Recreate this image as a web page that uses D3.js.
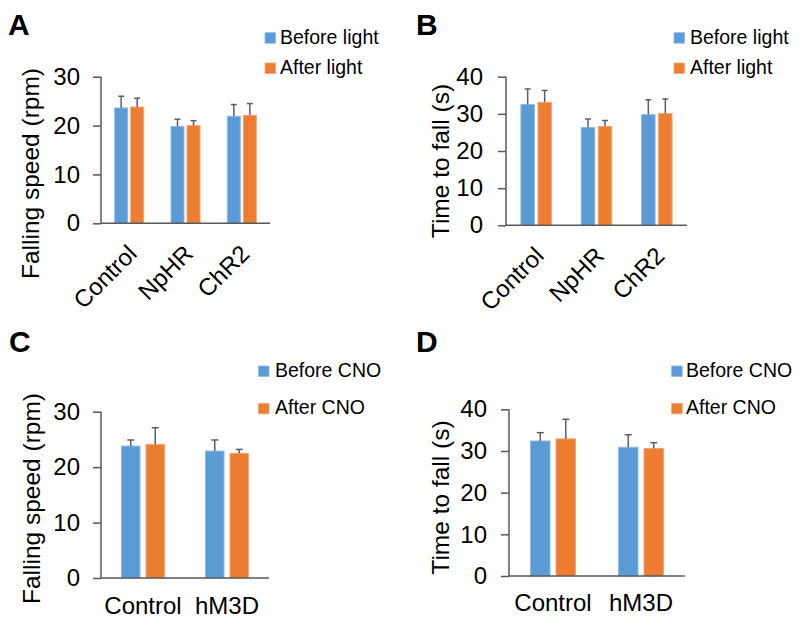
<!DOCTYPE html>
<html>
<head>
<meta charset="utf-8">
<script src="https://cdn.jsdelivr.net/npm/d3@7"></script>
<style>
  html, body { margin: 0; padding: 0; background: #fff; }
  svg { display: block; }
  text { font-family: "Liberation Sans", Arial, sans-serif; fill: #000; }
</style>
</head>
<body>
<svg id="chart" width="800" height="620"></svg>
<script>
// ---------- data ----------
const catsLight = ["Control", "NpHR", "ChR2"];
const catsCNO = ["Control", "hM3D"];
const seriesLight = ["Before light", "After light"];
const seriesCNO = ["Before CNO", "After CNO"];

// Panel A: falling speed (rpm), light
const aBefore = [23.6, 19.8, 21.9];
const aBeforeErr = [2.4, 1.5, 2.4];
const aAfter = [23.8, 20.0, 22.1];
const aAfterErr = [1.8, 1.0, 2.4];

// Panel B: time to fall (s), light
const bBefore = [32.5, 26.3, 29.8];
const bBeforeErr = [4.2, 2.3, 4.0];
const bAfter = [33.1, 26.6, 30.1];
const bAfterErr = [3.2, 1.6, 3.9];

// Panel C: falling speed (rpm), CNO
const cBefore = [23.8, 22.9];
const cBeforeErr = [1.1, 2.0];
const cAfter = [24.1, 22.5];
const cAfterErr = [3.0, 0.7];

// Panel D: time to fall (s), CNO
const dBefore = [32.4, 30.9];
const dBeforeErr = [2.0, 3.0];
const dAfter = [32.9, 30.6];
const dAfterErr = [4.7, 1.4];

const ticksSpeed = [0, 10, 20, 30];
const ticksTime = [0, 10, 20, 30, 40];
const titleSpeed = "Falling speed (rpm)";
const titleTime = "Time to fall (s)";
const panelLetters = ["A", "B", "C", "D"];

const colors = ["#5B9BD5", "#ED7D31"];
const strokeColors = ["#8DB9E4", "#F3A676"];

// ---------- panels (data + layout) ----------
const panels = [
  { letter: panelLetters[0], cats: catsLight, series: seriesLight,
    values: [aBefore, aAfter], errs: [aBeforeErr, aAfterErr], ticks: ticksSpeed, title: titleSpeed,
    L: { ax: 101, ae: 270, yt: 76.7, yb: 223.3, bw: 13, gap: 3, rotate: true,
         legX: 265, legY: [32.7, 63], legTX: 280, letX: 8, letY: 35, tX: 39, tY: 173.5, tickGap: 21 } },
  { letter: panelLetters[1], cats: catsLight, series: seriesLight,
    values: [bBefore, bAfter], errs: [bBeforeErr, bAfterErr], ticks: ticksTime, title: titleTime,
    L: { ax: 506, ae: 687, yt: 76.7, yb: 225.3, bw: 13.5, gap: 3.5, rotate: true,
         legX: 674, legY: [32.7, 63], legTX: 690, letX: 416, letY: 35, tX: 449, tY: 161, tickGap: 23 } },
  { letter: panelLetters[2], cats: catsCNO, series: seriesCNO,
    values: [cBefore, cAfter], errs: [cBeforeErr, cAfterErr], ticks: ticksSpeed, title: titleSpeed,
    L: { ax: 101, ae: 269, yt: 411.7, yb: 578, bw: 18.5, gap: 6, rotate: false, labY: 614,
         legX: 258.5, legY: [366, 403.3], legTX: 275, letX: 9, letY: 352, tX: 40, tY: 498.5, tickGap: 21 } },
  { letter: panelLetters[3], cats: catsCNO, series: seriesCNO,
    values: [dBefore, dAfter], errs: [dBeforeErr, dAfterErr], ticks: ticksTime, title: titleTime,
    L: { ax: 509, ae: 685, yt: 409.3, yb: 576, bw: 19.5, gap: 6, rotate: false, labY: 611,
         legX: 671.7, legY: [366, 403.3], legTX: 686, letX: 416, letY: 352, tX: 449, tY: 497.5, tickGap: 22 } }
];

const svg = d3.select("#chart");
const axisColor = "#595959";
const errColor = "#5f5f5f";

panels.forEach(p => {
  const L = p.L;
  const g = svg.append("g");
  const yMax = d3.max(p.ticks);
  const y = d3.scaleLinear().domain([0, yMax]).range([L.yb, L.yt]);
  const x = d3.scaleBand().domain(p.cats).range([L.ax, L.ae]).paddingInner(0).paddingOuter(0);
  const groupW = 2 * L.bw + L.gap;
  const xs = d3.scaleBand().domain(p.series).range([-groupW / 2, groupW / 2])
    .paddingInner(L.gap / (L.bw + L.gap)).paddingOuter(0);

  // Panel letter
  g.append("text").attr("x", L.letX).attr("y", L.letY)
    .style("font-size", "30px").style("font-weight", "bold").text(p.letter);

  // Y axis via d3.axisLeft
  const yAxis = d3.axisLeft(y).tickValues(p.ticks).tickSize(8).tickPadding(L.tickGap - 8).tickFormat(d3.format("d"));
  const yg = g.append("g").attr("transform", `translate(${L.ax},0)`).call(yAxis);
  yg.select(".domain").attr("stroke", axisColor).attr("stroke-width", 1.5).attr("d", `M0,${L.yt}V${L.yb}`);
  yg.selectAll(".tick line").attr("stroke", axisColor).attr("stroke-width", 1.5);
  yg.selectAll(".tick text").style("font-size", "24px").attr("fill", "#000")
    .style("font-family", '"Liberation Sans", Arial, sans-serif');

  // Bars
  p.series.forEach((s, si) => {
    const vals = p.values[si];
    const errs = p.errs[si];
    const data = p.cats.map((c, i) => ({ c, v: vals[i], e: errs[i] }));
    g.selectAll(null).data(data).enter().append("rect")
      .attr("x", d => x(d.c) + x.bandwidth() / 2 + xs(s))
      .attr("y", d => y(d.v))
      .attr("width", xs.bandwidth())
      .attr("height", d => y(0) - y(d.v))
      .attr("fill", colors[si])
      .attr("stroke", strokeColors[si]).attr("stroke-width", 1);
    // error bars (upper only)
    const capW = L.rotate ? 6 : 7;
    const eg = g.selectAll(null).data(data).enter().append("g")
      .attr("transform", d => `translate(${x(d.c) + x.bandwidth() / 2 + xs(s) + xs.bandwidth() / 2},0)`);
    eg.append("line").attr("x1", 0).attr("x2", 0)
      .attr("y1", d => y(d.v)).attr("y2", d => y(d.v + d.e))
      .attr("stroke", errColor).attr("stroke-width", 1.5);
    eg.append("line").attr("x1", -capW / 2).attr("x2", capW / 2)
      .attr("y1", d => y(d.v + d.e)).attr("y2", d => y(d.v + d.e))
      .attr("stroke", errColor).attr("stroke-width", 1.5);
  });

  // X axis line
  g.append("line").attr("x1", L.ax).attr("x2", L.ae).attr("y1", y(0)).attr("y2", y(0))
    .attr("stroke", axisColor).attr("stroke-width", 1.5);

  // X labels
  if (L.rotate) {
    g.selectAll(null).data(p.cats).enter().append("text")
      .attr("text-anchor", "end")
      .attr("transform", d => `translate(${x(d) + x.bandwidth() / 2 + 9},${y(0) + 32}) rotate(-45)`)
      .style("font-size", "24px").text(d => d);
  } else {
    g.selectAll(null).data(p.cats).enter().append("text")
      .attr("text-anchor", "middle")
      .attr("x", d => x(d) + x.bandwidth() / 2)
      .attr("y", L.labY)
      .style("font-size", "24px").text(d => d);
  }

  // Y title
  g.append("text").attr("text-anchor", "middle")
    .attr("transform", `translate(${L.tX},${L.tY}) rotate(-90)`)
    .style("font-size", "24.5px").text(p.title);

  // Legend
  p.series.forEach((s, si) => {
    g.append("rect").attr("x", L.legX).attr("y", L.legY[si]).attr("width", 10.5).attr("height", 10.5)
      .attr("fill", colors[si]).attr("stroke", strokeColors[si]).attr("stroke-width", 0.8);
    g.append("text").attr("x", L.legTX).attr("y", L.legY[si] + 11)
      .style("font-size", "19.5px").text(s);
  });
});
</script>
</body>
</html>
